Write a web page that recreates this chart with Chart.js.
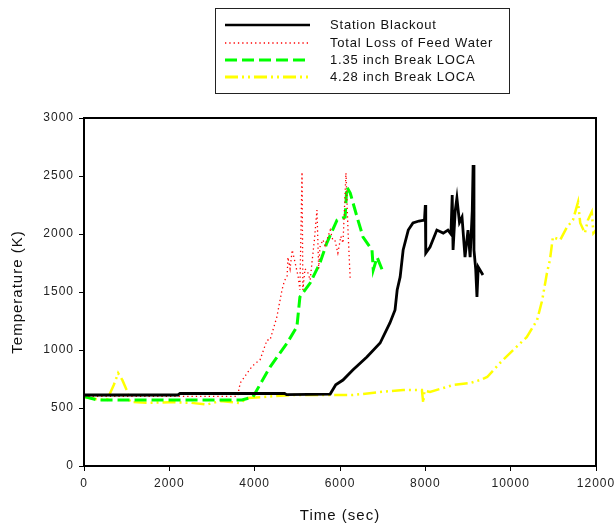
<!DOCTYPE html>
<html>
<head>
<meta charset="utf-8">
<script src="https://cdn.jsdelivr.net/npm/chart.js@4/dist/chart.umd.min.js"></script>
<style>
  html, body { margin: 0; padding: 0; background: #fff; }
  #wrap { width: 616px; height: 526px; position: relative; }
</style>
</head>
<body>
<div id="wrap"><canvas id="c" width="616" height="526"></canvas></div>
<script>
const seriesNames = ["Station Blackout", "Total Loss of Feed Water", "1.35 inch Break LOCA", "4.28 inch Break LOCA"];

const blackoutTime = [0, 2200, 2250, 4700, 4750, 5770, 5900, 6070, 6300, 6630, 6940, 7170, 7290, 7340, 7410, 7480, 7600, 7710, 7850, 7980, 8000, 8010, 8110, 8270, 8420, 8530, 8600, 8630, 8650, 8700, 8740, 8800, 8860, 8930, 9000, 9050, 9100, 9120, 9140, 9180, 9210, 9240, 9350];
const blackoutTemp = [612, 612, 625, 625, 615, 620, 700, 741, 827, 940, 1060, 1233, 1345, 1517, 1630, 1862, 2034, 2095, 2112, 2120, 2250, 1836, 1888, 2034, 2008, 2034, 2000, 2336, 1862, 2200, 2310, 2100, 2146, 1800, 2034, 1800, 2200, 2595, 1862, 1700, 1457, 1715, 1646];

const feedwaterTime = [0, 3600, 3660, 3890, 4000, 4125, 4290, 4360, 4520, 4640, 4700, 4760, 4780, 4830, 4880, 4950, 5020, 5060, 5110, 5130, 5180, 5250, 5300, 5400, 5460, 5500, 5530, 5600, 5650, 5770, 5830, 5880, 5950, 6020, 6070, 6140, 6190, 6240];
const feedwaterTemp = [600, 600, 715, 836, 880, 914, 1086, 1086, 1284, 1517, 1600, 1630, 1800, 1700, 1862, 1750, 1630, 1517, 2534, 1517, 1700, 1664, 1603, 1950, 2207, 1700, 1888, 1950, 1900, 2034, 1950, 1948, 1836, 1980, 1922, 2526, 2008, 1603];

const loca135Time = [0, 300, 3700, 3960, 4360, 4760, 4990, 5060, 5300, 5530, 5690, 5930, 6120, 6160, 6240, 6400, 6540, 6750, 6780, 6870, 7010];
const loca135Temp = [600, 570, 570, 595, 853, 1060, 1200, 1457, 1577, 1750, 1922, 2120, 2146, 2405, 2353, 2146, 1974, 1862, 1690, 1800, 1672];

const loca428Time = [0, 300, 540, 700, 800, 900, 1000, 1080, 1500, 2000, 2500, 2880, 3200, 3660, 3820, 4900, 6300, 7000, 7480, 7920, 7950, 7980, 8110, 8650, 9050, 9280, 9450, 9750, 10060, 10380, 10620, 10740, 10850, 10920, 10990, 11160, 11320, 11460, 11580, 11630, 11740, 11810, 11900, 11940, 12000];
const loca428Temp = [595, 575, 570, 700, 800, 740, 655, 552, 545, 550, 545, 530, 560, 543, 586, 612, 612, 640, 655, 655, 543, 650, 638, 698, 715, 741, 767, 888, 1000, 1112, 1259, 1431, 1664, 1776, 1974, 1948, 2060, 2120, 2276, 2095, 2008, 2120, 2190, 2008, 2034];

const xTicks = [0, 2000, 4000, 6000, 8000, 10000, 12000];
const yTicks = [0, 500, 1000, 1500, 2000, 2500, 3000];

function pts(xs, ys) { return xs.map((x, i) => ({ x: x, y: ys[i] })); }

const FONT = "'Liberation Sans', Arial, sans-serif";

const spacingPlugin = {
  id: 'spacing',
  beforeLayout(chart) { chart.ctx.letterSpacing = '1px'; },
  beforeDraw(chart) { chart.ctx.letterSpacing = '1px'; }
};

const framePlugin = {
  id: 'frame',
  afterDatasetsDraw(chart) {
    const { ctx, chartArea: a } = chart;
    ctx.save();
    ctx.strokeStyle = '#000';
    ctx.lineWidth = 2;
    ctx.strokeRect(a.left, a.top, a.right - a.left, a.bottom - a.top);
    ctx.restore();
  }
};

const legendPlugin = {
  id: 'boxLegend',
  afterDraw(chart) {
    const ctx = chart.ctx;
    const box = { l: 215, t: 8, r: 509, b: 93 };
    ctx.save();
    ctx.strokeStyle = '#222';
    ctx.lineWidth = 1;
    ctx.strokeRect(box.l + 0.5, box.t + 0.5, box.r - box.l, box.b - box.t);
    ctx.letterSpacing = '0.8px';
    const rows = [25, 43, 60, 77];
    chart.data.datasets.forEach((ds, i) => {
      const y = rows[i];
      ctx.save();
      ctx.strokeStyle = ds.borderColor;
      ctx.lineWidth = ds.legendWidth;
      ctx.setLineDash(ds.borderDash || []);
      ctx.beginPath();
      ctx.moveTo(225, y);
      ctx.lineTo(310, y);
      ctx.stroke();
      ctx.restore();
      ctx.fillStyle = '#111';
      ctx.font = '13px ' + FONT;
      ctx.textBaseline = 'middle';
      ctx.textAlign = 'left';
      ctx.fillText(ds.label, 330, y);
    });
    ctx.restore();
  }
};

const datasets = [
  { label: seriesNames[0], data: pts(blackoutTime, blackoutTemp), borderColor: '#000000', borderWidth: 2.8, legendWidth: 2.5, borderDash: [] },
  { label: seriesNames[1], data: pts(feedwaterTime, feedwaterTemp), borderColor: '#ff0000', borderWidth: 1.3, legendWidth: 1.3, borderDash: [1.3, 3] },
  { label: seriesNames[2], data: pts(loca135Time, loca135Temp), borderColor: '#00ff00', borderWidth: 3, legendWidth: 3, borderDash: [12, 5] },
  { label: seriesNames[3], data: pts(loca428Time, loca428Temp), borderColor: '#ffff00', borderWidth: 2.5, legendWidth: 3, borderDash: [13, 4, 2, 4, 2, 4] }
].map(d => Object.assign(d, { pointRadius: 0, tension: 0, fill: false }));

new Chart(document.getElementById('c'), {
  type: 'line',
  data: { datasets: datasets },
  options: {
    responsive: false,
    animation: false,
    devicePixelRatio: 1,
    layout: { padding: { top: 118, right: 20, left: 0, bottom: 0 } },
    plugins: { legend: { display: false }, tooltip: { enabled: false } },
    scales: {
      x: {
        type: 'linear', min: 0, max: 12000,
        afterBuildTicks: s => { s.ticks = xTicks.map(v => ({ value: v })); },
        afterFit: s => { s.height = 60; s.paddingLeft = 0; s.paddingRight = 0; },
        ticks: { color: '#222', font: { family: FONT, size: 12 }, padding: 5, maxRotation: 0, callback: v => String(v) },
        grid: { display: true, drawOnChartArea: false, drawTicks: true, tickLength: 5, color: '#000', lineWidth: 1 },
        border: { display: true, color: '#000', width: 2 },
        title: { display: true, text: 'Time (sec)', color: '#111', font: { family: FONT, size: 15 }, padding: { top: 0, bottom: 1 } }
      },
      y: {
        type: 'linear', min: 0, max: 3000,
        afterBuildTicks: s => { s.ticks = yTicks.map(v => ({ value: v })); },
        afterFit: s => { s.width = 84; s.paddingTop = 0; s.paddingBottom = 0; },
        ticks: { color: '#222', font: { family: FONT, size: 12 }, padding: 5, callback: v => String(v) },
        grid: { display: true, drawOnChartArea: false, drawTicks: true, tickLength: 5, color: '#000', lineWidth: 1 },
        border: { display: true, color: '#000', width: 2 },
        title: { display: true, text: 'Temperature (K)', color: '#111', font: { family: FONT, size: 15 }, padding: { top: 9, bottom: 0 } }
      }
    }
  },
  plugins: [spacingPlugin, framePlugin, legendPlugin]
});
</script>
</body>
</html>
